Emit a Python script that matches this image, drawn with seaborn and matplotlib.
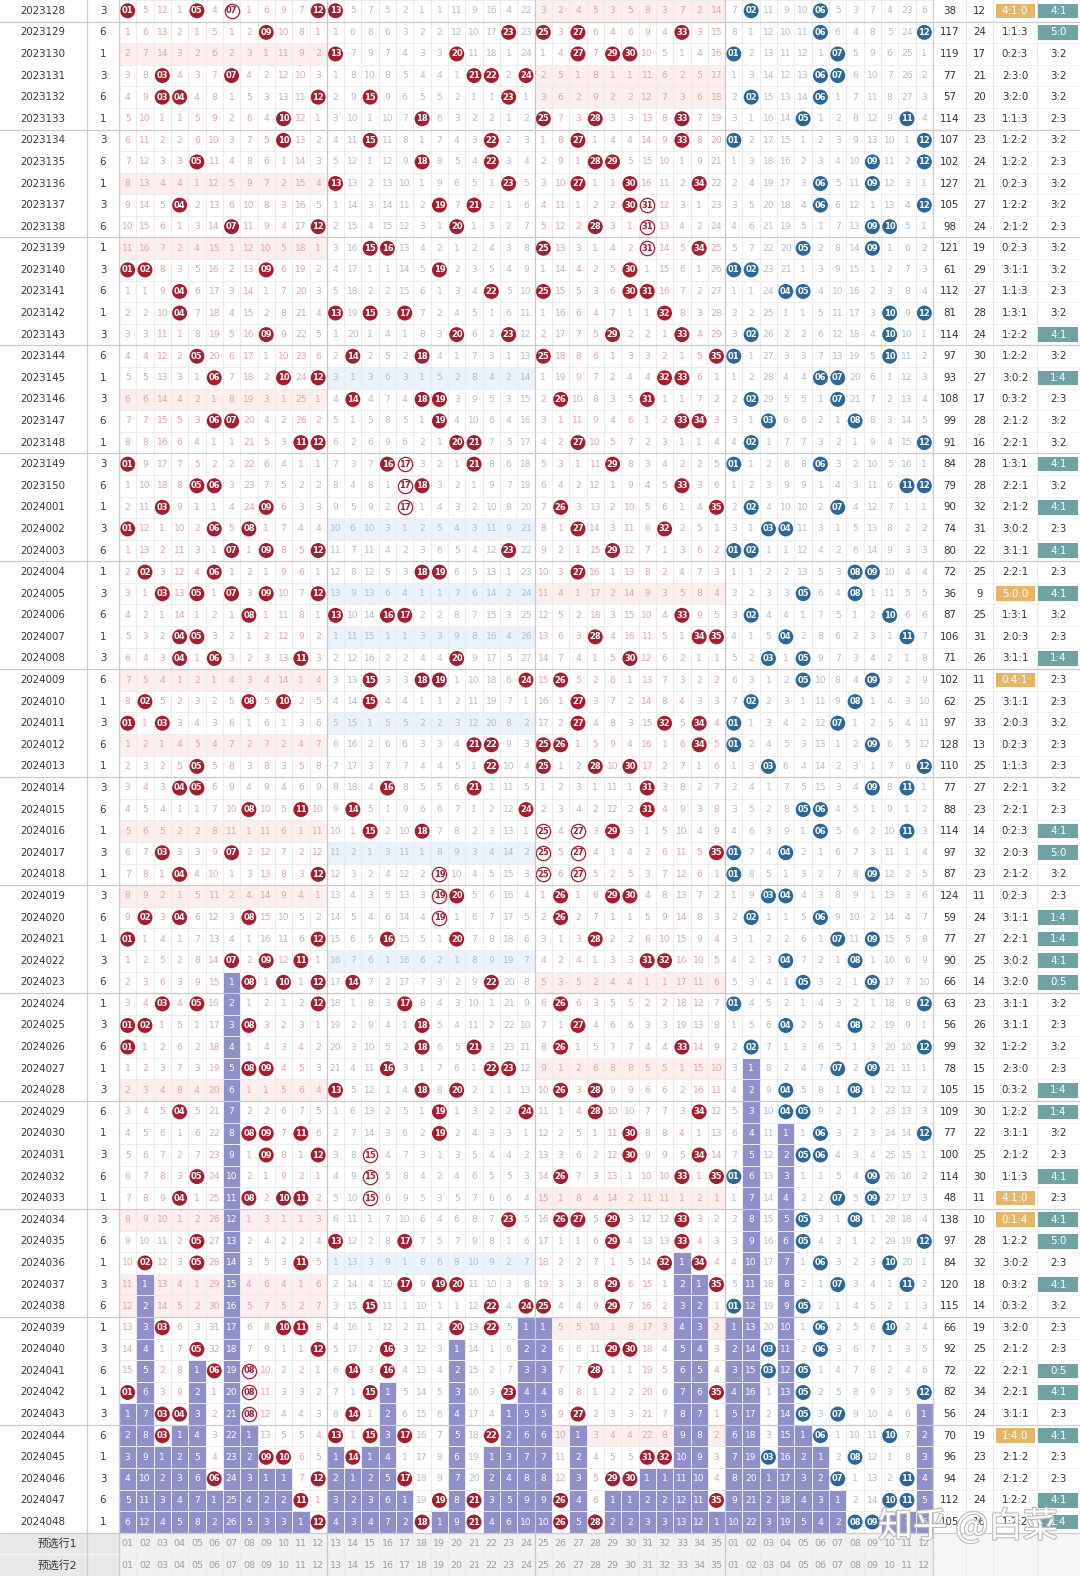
import numpy as np
import matplotlib
matplotlib.use('Agg')
import matplotlib.pyplot as plt
from matplotlib.colors import ListedColormap
from matplotlib.patches import Rectangle
import matplotlib.patheffects as pe
import seaborn as sns

sns.set_theme(style='white')
plt.rcParams['font.family'] = ['DejaVu Sans', 'Noto Sans CJK SC']

## draw data
issues = ['2023128', '2023129', '2023130', '2023131', '2023132', '2023133', '2023134',
          '2023135', '2023136', '2023137', '2023138', '2023139', '2023140', '2023141',
          '2023142', '2023143', '2023144', '2023145', '2023146', '2023147', '2023148',
          '2023149', '2023150',
          '2024001', '2024002', '2024003', '2024004', '2024005', '2024006', '2024007',
          '2024008', '2024009', '2024010', '2024011', '2024012', '2024013', '2024014',
          '2024015', '2024016', '2024017', '2024018', '2024019', '2024020', '2024021',
          '2024022', '2024023', '2024024', '2024025', '2024026', '2024027', '2024028',
          '2024029', '2024030', '2024031', '2024032', '2024033', '2024034', '2024035',
          '2024036', '2024037', '2024038', '2024039', '2024040', '2024041', '2024042',
          '2024043', '2024044', '2024045', '2024046', '2024047', '2024048']

weekday = [3, 6, 1, 3, 6, 1, 3, 6, 1, 3, 6, 1, 3, 6, 1, 3, 6, 1, 3, 6, 1, 3, 6,
           1, 3, 6, 1, 3, 6, 1, 3, 6, 1, 3, 6, 1, 3, 6, 1, 3, 1, 3, 6, 1, 3, 6, 1,
           3, 6, 1, 3, 6, 1, 3, 6, 1, 3, 6, 1, 3, 6, 1, 3, 6, 1, 3, 6, 1, 3, 6, 1]

front = [[1, 5, 7, 12, 13], [9, 23, 25, 27, 33], [13, 20, 27, 29, 30], [3, 7, 21, 22, 24],
         [3, 4, 12, 15, 23], [10, 18, 25, 28, 33], [10, 15, 22, 27, 33], [5, 18, 22, 28, 29],
         [13, 23, 27, 30, 34], [4, 19, 21, 30, 31], [7, 12, 20, 28, 31], [15, 16, 25, 31, 34],
         [1, 2, 9, 19, 30], [4, 22, 25, 30, 31], [4, 13, 15, 17, 32], [9, 20, 23, 29, 33],
         [5, 14, 18, 25, 35], [6, 10, 12, 32, 33], [14, 18, 19, 26, 31], [6, 7, 19, 33, 34],
         [11, 12, 20, 21, 27], [1, 16, 17, 21, 29], [5, 6, 17, 18, 33],
         [3, 9, 17, 26, 35], [1, 6, 8, 27, 32], [7, 9, 12, 23, 29], [2, 6, 18, 19, 27],
         [3, 5, 7, 9, 12], [8, 13, 16, 17, 33], [4, 5, 28, 34, 35], [4, 6, 11, 20, 30],
         [15, 18, 19, 24, 26], [2, 8, 10, 15, 27], [1, 3, 27, 32, 34], [21, 22, 25, 26, 34],
         [5, 22, 25, 28, 30], [4, 5, 16, 21, 31], [8, 11, 14, 24, 31], [15, 18, 25, 27, 29],
         [3, 7, 25, 27, 35], [4, 12, 19, 25, 27], [19, 20, 26, 29, 30], [2, 4, 8, 19, 26],
         [1, 12, 16, 20, 28], [7, 9, 11, 31, 32], [8, 10, 12, 14, 22], [3, 5, 12, 17, 26],
         [1, 2, 8, 18, 27], [1, 18, 21, 26, 33], [8, 9, 16, 22, 23], [13, 18, 20, 26, 28],
         [4, 19, 24, 28, 34], [8, 9, 11, 19, 30], [9, 12, 15, 30, 34], [5, 15, 26, 33, 35],
         [4, 8, 10, 11, 15], [23, 26, 27, 29, 33], [5, 13, 17, 29, 33], [2, 5, 11, 32, 34],
         [17, 19, 20, 29, 35], [15, 22, 24, 25, 29], [3, 10, 11, 20, 22], [5, 12, 16, 29, 30],
         [6, 8, 14, 16, 28], [1, 8, 15, 23, 35], [3, 4, 8, 14, 27], [3, 13, 15, 17, 22],
         [9, 10, 14, 31, 32], [6, 12, 17, 29, 30], [11, 19, 21, 26, 35], [12, 18, 21, 26, 28]]

back = [[2, 6], [6, 12], [1, 7], [6, 7], [2, 6], [5, 11], [1, 12], [9, 12], [6, 9], [6, 12],
        [9, 10], [5, 9], [1, 2], [4, 5], [10, 12], [2, 10], [1, 10], [6, 7], [2, 7], [3, 8],
        [2, 12], [1, 6], [11, 12],
        [2, 7], [3, 4], [1, 2], [8, 9], [5, 8], [2, 10], [4, 11], [3, 5], [5, 9], [2, 8],
        [1, 7], [1, 9], [3, 12], [9, 11], [5, 6], [6, 11], [1, 4], [1, 9], [3, 4], [2, 6],
        [7, 9], [4, 8], [5, 9], [1, 12], [4, 8], [2, 12], [7, 9], [4, 8], [4, 5], [6, 12],
        [5, 6], [1, 9], [7, 9], [5, 8], [5, 12], [6, 10], [7, 11], [1, 5], [6, 10], [3, 6],
        [3, 5], [5, 12], [5, 7], [6, 10], [3, 8], [7, 11], [10, 11], [8, 9]]

# omission shown in the first row (0 where the number was drawn)
front_omit0 = [0, 5, 12, 1, 0, 4, 0, 1, 6, 9, 7, 0,
               0, 5, 7, 5, 2, 1, 1, 11, 9, 16, 4, 22,
               3, 2, 4, 5, 3, 5, 8, 3, 7, 2, 14]
back_omit0 = [7, 0, 11, 9, 10, 0, 5, 3, 7, 4, 23, 6]

# balls drawn as rings (repeat runs)
hollow = [('2023128', 7), ('2023137', 31), ('2023138', 31), ('2023139', 31),
          ('2023149', 17), ('2023150', 17), ('2024001', 17),
          ('2024016', 25), ('2024017', 25), ('2024018', 25),
          ('2024016', 27), ('2024017', 27), ('2024018', 27),
          ('2024018', 19), ('2024019', 19), ('2024020', 19),
          ('2024031', 15), ('2024032', 15), ('2024033', 15),
          ('2024041', 8), ('2024042', 8), ('2024043', 8)]

pre_labels = ['预选行1', '预选行2']

## geometry in pixels
W, H = 1080, 1576
n = len(issues)
nrow = n + 2
rh = H / nrow
x_issue, x_wd, x_g0, x_g1 = 0, 87, 119, 933
x_stats = [933, 966, 993, 1037, 1080]
RED, BLUE = '#a71d2e', '#2b6897'

## hits / omission / background categories
hits = np.zeros((n, 47), bool)
for i in range(n):
    for v in front[i]:
        hits[i, v - 1] = True
    for v in back[i]:
        hits[i, 35 + v - 1] = True

omit = np.zeros((n, 47), int)
cur = np.array(front_omit0 + back_omit0)
for i in range(n):
    if i > 0:
        cur = cur + 1
    cur[hits[i]] = 0
    omit[i] = cur

last_hit = np.array([np.where(hits[:, c])[0].max() for c in range(47)])

bg = np.zeros((nrow, 47))
for i in range(n):
    f = np.array(front[i])
    if ((f >= 1) & (f <= 12)).sum() == 0:
        bg[i, 0:12] = 1
    if ((f >= 13) & (f <= 24)).sum() == 0:
        bg[i, 12:24] = 2
    if ((f >= 25) & (f <= 35)).sum() == 0:
        bg[i, 24:35] = 1
    for c in range(47):
        if i > last_hit[c]:
            bg[i, c] = 3
bg[n:, :] = 4

cmap = ListedColormap(['#ffffff', '#fdeeee', '#eaf2fb', '#8f8fca', '#f1f1f1'])

fig = plt.figure(figsize=(W / 100, H / 100), dpi=100)
axg = fig.add_axes([x_g0 / W, 0, (x_g1 - x_g0) / W, 1])
sns.heatmap(bg, ax=axg, cmap=cmap, vmin=-0.5, vmax=4.5, cbar=False,
            linewidths=0.5, linecolor='#ececec', xticklabels=False, yticklabels=False)

hollow_set = set(hollow)
bx, by, bcol, hx, hy = [], [], [], [], []
for i in range(n):
    for c in range(47):
        x, y = c + 0.5, i + 0.5
        if hits[i, c]:
            num = c + 1 if c < 35 else c - 34
            if c < 35 and (issues[i], num) in hollow_set:
                hx.append(x); hy.append(y)
                axg.text(x, y, '%02d' % num, ha='center', va='center', fontsize=6,
                         fontweight='bold', color=RED, zorder=5)
            else:
                bx.append(x); by.append(y)
                bcol.append(RED if c < 35 else BLUE)
                axg.text(x, y, '%02d' % num, ha='center', va='center', fontsize=6,
                         fontweight='bold', color='white', zorder=5)
        else:
            if bg[i, c] == 3:
                col = 'white'
            elif c < 12 or 24 <= c < 35:
                col = '#e2a4a7'
            else:
                col = '#b2bdca'
            axg.text(x, y, str(omit[i, c]), ha='center', va='center', fontsize=6.6,
                     color=col, zorder=2)
axg.scatter(bx, by, s=116, c=bcol, linewidths=0, zorder=4)
axg.scatter(hx, hy, s=106, facecolors='white', edgecolors=RED, linewidths=0.9, zorder=4)

for k in range(2):
    for c in range(47):
        num = c + 1 if c < 35 else c - 34
        axg.text(c + 0.5, n + k + 0.5, '%02d' % num, ha='center', va='center',
                 fontsize=6.8, color='#9d9d9d')

for xv in [0, 12, 24, 35, 47]:
    axg.axvline(xv, color='#c8c8c8', lw=0.9, zorder=6)

## overlay for side columns
ax = fig.add_axes([0, 0, 1, 1])
ax.set_xlim(0, W)
ax.set_ylim(H, 0)
ax.axis('off')
ax.patch.set_alpha(0)

ax.add_patch(Rectangle((0, n * rh), x_g0, 2 * rh, color='#e8e8e8', lw=0))
ax.add_patch(Rectangle((x_g1, n * rh), W - x_g1, 2 * rh, color='#f6f6f6', lw=0))

for i in range(n):
    yc = (i + 0.5) * rh
    ax.text(43, yc, issues[i], ha='center', va='center', fontsize=7.4, color='#3a3a3a')
    ax.text(103, yc, str(weekday[i]), ha='center', va='center', fontsize=7.4, color='#3a3a3a')
    f = np.array(front[i])
    zones = [((f >= 1) & (f <= 12)).sum(), ((f >= 13) & (f <= 24)).sum(), ((f >= 25)).sum()]
    odd = (f % 2 == 1).sum()
    vals = [str(f.sum()), str(f.max() - f.min()),
            '%d:%d:%d' % tuple(zones), '%d:%d' % (odd, 5 - odd)]
    for k, v in enumerate(vals):
        xc = (x_stats[k] + x_stats[k + 1]) / 2
        tc = '#333333'
        if k == 2 and max(zones) >= 4:
            ax.add_patch(Rectangle((x_stats[2] + 2.5, i * rh + 3.5), 39, rh - 7,
                                   color='#e7b566', lw=0))
            tc = 'white'
        if k == 3 and odd in (0, 1, 4, 5):
            ax.add_patch(Rectangle((x_stats[3] + 0.5, i * rh + 3.5), 40, rh - 7,
                                   color='#6ea2a3', lw=0))
            tc = 'white'
        ax.text(xc, (i + 0.5) * rh, v, ha='center', va='center', fontsize=7.4, color=tc)
    ax.plot([x_g1, W], [(i + 1) * rh] * 2, color='#eeeeee', lw=0.5)

for k, lab in enumerate(pre_labels):
    ax.text(57, (n + k + 0.5) * rh, lab, ha='center', va='center', fontsize=7.8, color='#333333')
ax.plot([0, x_g0], [(n + 1) * rh] * 2, color='#f8f8f8', lw=0.8)

for xv in [x_wd, x_g0, x_g1]:
    ax.plot([xv, xv], [0, H], color='#cfcfcf', lw=0.9)
for xv in x_stats[1:-1]:
    ax.plot([xv, xv], [0, H], color='#e8e8e8', lw=0.6)
for g in range(1, n + 1, 5):
    ax.plot([0, W], [g * rh] * 2, color='#cbcbcb', lw=0.9)

ax.text(968, 1527, '知乎 @白菜', ha='center', va='center', fontsize=25, color='white',
        alpha=0.92, family=['Noto Sans CJK SC', 'DejaVu Sans'],
        path_effects=[pe.withStroke(linewidth=1.6, foreground='#b8b8b8')])

fig.savefig('out.png', dpi=100)
